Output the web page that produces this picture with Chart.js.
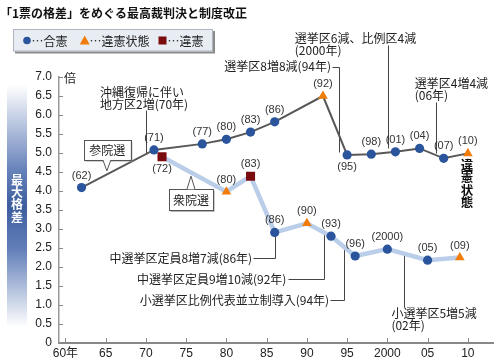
<!DOCTYPE html>
<html lang="ja">
<head>
<meta charset="utf-8">
<title>「1票の格差」をめぐる最高裁判決と制度改正</title>
<script src="https://cdn.jsdelivr.net/npm/chart.js@4/dist/chart.umd.min.js"></script>
<style>
  html, body { margin: 0; padding: 0; background: #fff; }
  #wrap { width: 500px; height: 363px; }
</style>
</head>
<body>
<div id="wrap"><canvas id="chart" width="500" height="363"></canvas></div>
<script>
// 参院選（最大格差、判決年）
const sangiinYears  = [1962, 1971, 1977, 1980, 1983, 1986, 1992, 1995, 1998, 2001, 2004, 2007, 2010];
const sangiinGap    = [4.09, 5.08, 5.24, 5.36, 5.55, 5.82, 6.50, 4.95, 4.97, 5.03, 5.12, 4.86, 4.99];
const sangiinRuling = ['合憲', '合憲', '合憲', '合憲', '合憲', '合憲', '違憲状態', '合憲', '合憲', '合憲', '合憲', '合憲', '違憲状態'];
const sangiinLabels = ['(62)', '(71)', '(77)', '(80)', '(83)', '(86)', '(92)', '(95)', '(98)', '(01)', '(04)', '(07)', '(10)'];

// 衆院選
const shugiinYears  = [1972, 1980, 1983, 1986, 1990, 1993, 1996, 2000, 2005, 2009];
const shugiinGap    = [4.90, 3.98, 4.39, 2.91, 3.15, 2.81, 2.29, 2.47, 2.18, 2.25];
const shugiinRuling = ['違憲', '違憲状態', '違憲', '合憲', '違憲状態', '合憲', '合憲', '合憲', '合憲', '違憲状態'];
const shugiinLabels = ['(72)', '(80)', '(83)', '(86)', '(90)', '(93)', '(96)', '(2000)', '(05)', '(09)'];

const xTicks = [1960, 1965, 1970, 1975, 1980, 1985, 1990, 1995, 2000, 2005, 2010];
const rulings = ['合憲', '違憲状態', '違憲'];

// marker look per ruling
const marks = {
  '合憲':     { style: 'circle',   color: '#2a549b', r: 4.6 },
  '違憲状態': { style: 'triangle', color: '#f07c0a', r: 5.6 },
  '違憲':     { style: 'rect',     color: '#7a0b0e', r: 6.4 }
};

// 注記（位置はデータ座標）
const notes = [
  { text: ['沖縄復帰に伴い', '地方区2増(70年)'], at: [1964.3, 6.6], align: 'left',
    leader: [[1970, 6.13], [1970, 4.97]] },
  { text: ['選挙区8増8減(94年)'], at: [1993.0, 7.27], align: 'right',
    leader: [[1993.1, 7.27], [1993.95, 7.27], [1993.95, 5.03]] },
  { text: ['選挙区6減、比例区4減', '(2000年)'], at: [1988.5, 8.02], align: 'left',
    leader: [[2000.05, 7.84], [2000.05, 5.12]] },
  { text: ['選挙区4増4減', '(06年)'], at: [2003.4, 6.83], align: 'left',
    leader: [[2006.1, 6.35], [2006.1, 4.99]] },
  { text: ['中選挙区定員8増7減(86年)'], at: [1983.2, 2.23], align: 'right',
    leader: [[1983.35, 2.23], [1986.1, 2.23], [1986.1, 2.91]] },
  { text: ['中選挙区定員9増10減(92年)'], at: [1987.45, 1.68], align: 'right',
    leader: [[1987.6, 1.68], [1992.07, 1.68], [1992.07, 2.89]] },
  { text: ['小選挙区比例代表並立制導入(94年)'], at: [1992.76, 1.13], align: 'right',
    leader: [[1992.9, 1.13], [1994.6, 1.13], [1994.6, 2.53]] },
  { text: ['小選挙区5増5減', '(02年)'], at: [2000.5, 0.78], align: 'left',
    leader: [[2002.07, 2.32], [2002.07, 0.95]] }
];
const callouts = [
  { text: '参院選', at: [1965.2, 5.08], w: 47, h: 20, tip: [1965.15, 4.53] },
  { text: '衆院選', at: [1975.6, 3.77], w: 44, h: 21, tip: [1975.6, 4.39] }
];
const belowLabels = ['(72)', '(95)'];

const JP = "'Noto Sans CJK JP', sans-serif";
const NUM = "'Liberation Sans', 'Noto Sans CJK JP', sans-serif";

function series(years, gap, ruling, labels, color, width) {
  return {
    data: years.map((x, i) => ({ x: x, y: gap[i] })),
    pointLabels: labels,
    borderColor: color,
    borderWidth: width,
    pointStyle: ruling.map(r => marks[r].style),
    pointRadius: ruling.map(r => marks[r].r),
    pointBackgroundColor: ruling.map(r => marks[r].color),
    pointBorderWidth: 0,
    pointHoverRadius: ruling.map(r => marks[r].r)
  };
}

function pos(chart, p) {
  return [chart.scales.x.getPixelForValue(p[0]), chart.scales.y.getPixelForValue(p[1])];
}

const decor = {
  id: 'decor',
  beforeDraw(chart) {
    const c = chart.ctx;
    c.save();
    // 左の帯
    const g = c.createLinearGradient(0, 85, 0, 327);
    g.addColorStop(0, '#ffffff');
    g.addColorStop(0.35, '#6883bb');
    g.addColorStop(0.5, '#3c5d9e');
    g.addColorStop(0.68, '#6380b9');
    g.addColorStop(1, '#ffffff');
    c.fillStyle = g;
    c.fillRect(7, 85, 20, 242);
    c.fillStyle = '#fff';
    c.font = 'bold 12px ' + JP;
    c.textAlign = 'center';
    c.textBaseline = 'middle';
    '最大格差'.split('').forEach((ch, i) => c.fillText(ch, 17, 180 + i * 12.4));

    // title
    c.fillStyle = '#111';
    c.textAlign = 'left';
    c.font = 'bold 12px ' + JP;
    c.fillText('「1票の格差」をめぐる最高裁判決と制度改正', 0, 13);

    // legend
    c.fillStyle = '#8c8c8c';
    c.fillRect(15, 31, 200, 22.5);
    c.fillStyle = '#e8edf4';
    c.fillRect(13, 29, 200, 22.5);
    c.strokeStyle = '#b0b5bd';
    c.lineWidth = 1;
    c.strokeRect(13.5, 29.5, 199, 21.5);
    const lx = [27, 84.7, 162.5];
    const tx = [31.5, 89.5, 167.5];
    rulings.forEach((r, i) => {
      const m = marks[r];
      c.fillStyle = m.color;
      c.beginPath();
      if (m.style === 'circle') c.arc(lx[i], 40.5, 3.8, 0, Math.PI * 2);
      else if (m.style === 'triangle') { c.moveTo(lx[i], 35.5); c.lineTo(lx[i] + 5, 44.5); c.lineTo(lx[i] - 5, 44.5); c.closePath(); }
      else c.rect(lx[i] - 4, 36.5, 8, 8);
      c.fill();
      c.fillStyle = '#222';
      c.font = '12px ' + JP;
      c.fillText('…' + r, tx[i], 41);
    });

    // unit
    c.font = '12px ' + JP;
    c.fillStyle = '#222';
    c.fillText('倍', 64, 78);
    c.restore();
  },
  beforeDatasetsDraw(chart) {
    const c = chart.ctx, xs = chart.scales.x, ys = chart.scales.y;
    const a = chart.chartArea;
    c.save();
    // tick marks pointing inward
    c.strokeStyle = '#888';
    c.lineWidth = 1;
    c.beginPath();
    ys.ticks.forEach(t => {
      const y = Math.round(ys.getPixelForValue(t.value)) + 0.5;
      c.moveTo(a.left, y); c.lineTo(a.left + 4, y);
    });
    xs.ticks.forEach(t => {
      const x = Math.round(xs.getPixelForValue(t.value)) + 0.5;
      c.moveTo(x, a.bottom); c.lineTo(x, a.bottom - 5);
    });
    c.stroke();
    // leader lines
    c.strokeStyle = '#444';
    notes.forEach(n => {
      c.beginPath();
      n.leader.forEach((p, i) => {
        const q = pos(chart, p);
        const x = Math.round(q[0]) + 0.5, y = Math.round(q[1]) + 0.5;
        if (i === 0) c.moveTo(x, y); else c.lineTo(x, y);
      });
      c.stroke();
    });
    c.restore();
  },
  afterDatasetsDraw(chart) {
    const c = chart.ctx;
    c.save();
    // point labels
    c.font = "11px 'Liberation Sans Narrow', 'Liberation Sans', sans-serif";
    c.fillStyle = '#333';
    c.textAlign = 'center';
    c.textBaseline = 'middle';
    chart.data.datasets.forEach((ds, i) => {
      chart.getDatasetMeta(i).data.forEach((el, j) => {
        const lab = ds.pointLabels[j];
        const dy = belowLabels.includes(lab) ? 12 : -12;
        c.fillText(lab, el.x, el.y + dy);
      });
    });

    // notes
    c.font = '12px ' + JP;
    c.fillStyle = '#222';
    notes.forEach(n => {
      const q = pos(chart, n.at);
      c.textAlign = n.align;
      n.text.forEach((t, k) => c.fillText(t, q[0], q[1] + k * 12));
    });

    // callouts
    callouts.forEach(b => {
      const q = pos(chart, b.at), tp = pos(chart, b.tip);
      const x0 = q[0] - b.w / 2, y0 = q[1] - b.h / 2;
      const down = tp[1] > q[1];
      const by = down ? y0 + b.h : y0;
      c.fillStyle = '#9a9a9a';
      c.fillRect(x0 + 1.5, y0 + 1.5, b.w, b.h);
      c.fillStyle = '#fff';
      c.fillRect(x0, y0, b.w, b.h);
      c.strokeStyle = '#555';
      c.lineWidth = 1;
      c.strokeRect(Math.round(x0) + 0.5, Math.round(y0) + 0.5, Math.round(b.w), Math.round(b.h));
      c.beginPath();
      c.moveTo(tp[0] - 4, by); c.lineTo(tp[0], tp[1]); c.lineTo(tp[0] + 4, by);
      c.closePath();
      c.fill();
      c.beginPath();
      c.moveTo(tp[0] - 4, by); c.lineTo(tp[0], tp[1]); c.lineTo(tp[0] + 4, by);
      c.stroke();
      c.fillStyle = '#222';
      c.textAlign = 'center';
      c.fillText(b.text, q[0], q[1] + 0.5);
    });

    // 違憲状態（縦書き）
    const v = pos(chart, [2009.9, 4.68]);
    c.font = 'bold 12.5px ' + JP;
    c.fillStyle = '#111';
    c.textAlign = 'center';
    '違憲状態'.split('').forEach((ch, i) => c.fillText(ch, v[0], v[1] + i * 12.3));
    c.restore();
  }
};

new Chart(document.getElementById('chart'), {
  type: 'line',
  data: {
    datasets: [
      series(sangiinYears, sangiinGap, sangiinRuling, sangiinLabels, '#585858', 2),
      series(shugiinYears, shugiinGap, shugiinRuling, shugiinLabels, '#bacee9', 4.5)
    ]
  },
  options: {
    responsive: false,
    animation: false,
    devicePixelRatio: 1,
    layout: { padding: { top: 77, left: 0, right: 0, bottom: 0 } },
    plugins: { legend: { display: false }, tooltip: { enabled: false } },
    scales: {
      x: {
        type: 'linear',
        min: 1959.2,
        max: 2013.2,
        afterBuildTicks: s => { s.ticks = xTicks.map(v => ({ value: v })); },
        afterFit: s => { s.height = 20; },
        grid: { display: false, drawTicks: false },
        border: { display: true, color: '#888', width: 2 },
        ticks: {
          padding: 3,
          color: '#222',
          font: { family: NUM, size: 12 },
          maxRotation: 0,
          autoSkip: false,
          callback: v => v === 1960 ? '60年' : v === 2000 ? '2000' : String(v % 100).padStart(2, '0')
        }
      },
      y: {
        min: 0,
        max: 7,
        afterFit: s => { s.width = 59; },
        grid: { display: false, drawTicks: false },
        border: { display: true, color: '#999', width: 1.5 },
        ticks: {
          stepSize: 0.5,
          padding: 7,
          color: '#222',
          font: { family: NUM, size: 12 },
          callback: v => v === 0 ? '0' : v.toFixed(1)
        }
      }
    }
  },
  plugins: [decor]
});
</script>
</body>
</html>
